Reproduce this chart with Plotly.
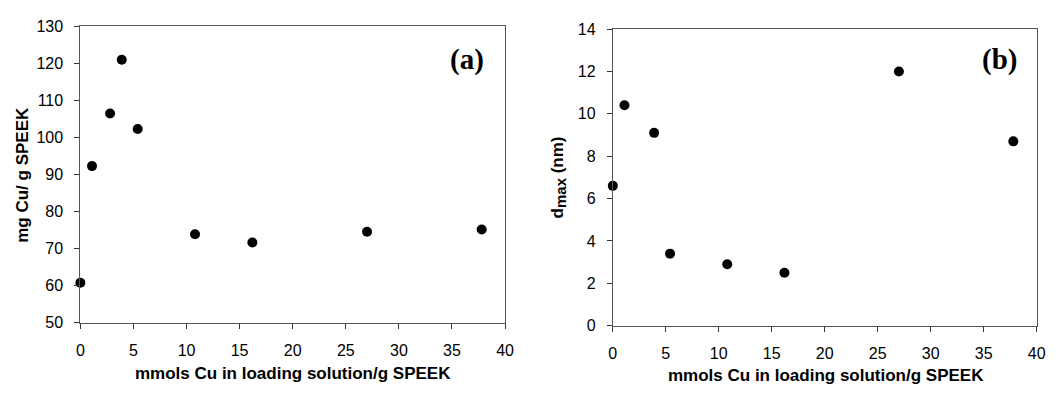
import plotly.graph_objects as go

# Panel (a)
xa = [0, 1.1, 2.8, 3.9, 5.4, 10.8, 16.2, 27.0, 37.8]
ya = [60.8, 92.3, 106.5, 121.0, 102.3, 73.9, 71.7, 74.6, 75.2]
# Panel (b)
xb = [0, 1.1, 3.9, 5.4, 10.8, 16.2, 27.0, 37.8]
yb = [6.6, 10.4, 9.1, 3.4, 2.9, 2.5, 12.0, 8.7]

xticks = [0, 5, 10, 15, 20, 25, 30, 35, 40]
ya_ticks = [50, 60, 70, 80, 90, 100, 110, 120, 130]
yb_ticks = [0, 2, 4, 6, 8, 10, 12, 14]

W, H = 1056, 394
fig = go.Figure()
mk = dict(color="black", size=10)
fig.add_trace(go.Scatter(x=xa, y=ya, mode="markers", marker=mk, xaxis="x", yaxis="y", cliponaxis=False))
fig.add_trace(go.Scatter(x=xb, y=yb, mode="markers", marker=mk, xaxis="x2", yaxis="y2", cliponaxis=False))

tickfont = dict(family="Liberation Sans, Arial", size=16, color="black")
axcommon = dict(showgrid=False, zeroline=False, ticks="outside", ticklen=5, tickwidth=1,
                tickcolor="#333", showline=True, linecolor="#555", linewidth=1, mirror=True,
                tickfont=tickfont)

fig.update_layout(
    width=W, height=H, margin=dict(l=0, r=0, t=0, b=0),
    paper_bgcolor="white", plot_bgcolor="white", showlegend=False,
    xaxis=dict(domain=[77.3 / W, 507.3 / W], range=[0, 40], tickvals=xticks, anchor="y",
               ticklabelstandoff=8, **axcommon),
    yaxis=dict(domain=[1 - 329 / H, 1 - 19.3 / H], range=[50, 130], tickvals=ya_ticks, anchor="x",
               ticklabelstandoff=8, **axcommon),
    xaxis2=dict(domain=[616.4 / W, 1045.5 / W], range=[0, 40], tickvals=xticks, anchor="y2",
                ticklabelstandoff=8, **axcommon),
    yaxis2=dict(domain=[1 - 332 / H, 1 - 22 / H], range=[0, 14], tickvals=yb_ticks, anchor="x2",
                ticklabelstandoff=8, **axcommon),
)

tfont = dict(family="Liberation Sans, Arial", size=17, color="black")
lfont = dict(family="Liberation Serif, Times New Roman", size=29, color="black")
ann = [
    dict(text="<b>mmols Cu in loading solution/g SPEEK</b>", x=292.5 / W, y=1 - 382 / H, font=tfont),
    dict(text="<b>mmols Cu in loading solution/g SPEEK</b>", x=832 / W, y=1 - 384 / H, font=tfont),
    dict(text="<b>mg Cu/ g SPEEK</b>", x=18.5 / W, y=1 - 174 / H, font=tfont, textangle=-90),
    dict(text="<b>d<sub><span style='font-size:15px'>max</span></sub> (nm)</b>", x=562 / W, y=1 - 177 / H,
         font=tfont, textangle=-90),
    dict(text="<b>(a)</b>", x=469 / W, y=1 - 54 / H, font=lfont),
    dict(text="<b>(b)</b>", x=1008 / W, y=1 - 54 / H, font=lfont),
]
for a in ann:
    a.update(xref="paper", yref="paper", showarrow=False, xanchor="center", yanchor="middle")
fig.update_layout(annotations=ann)

fig.write_html("out.html")
